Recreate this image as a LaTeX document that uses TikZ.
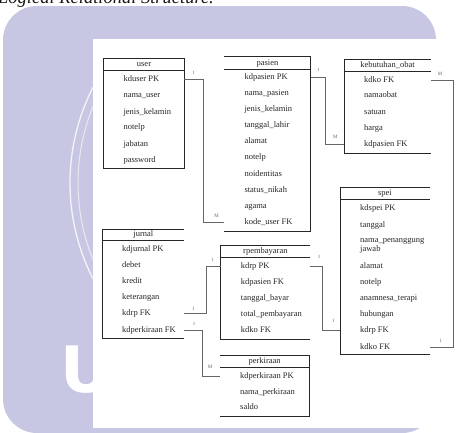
\documentclass[tikz,border=0pt]{standalone}
\usepackage{fontspec}
\setmainfont{Liberation Serif}
\newfontfamily\logofont{DejaVu Sans}
\usetikzlibrary{positioning}
\colorlet{penColor}{black!85}
\colorlet{penColor2}{black!60}
\definecolor{markColor}{RGB}{199,199,227}

\tikzset{
  box/.style={anchor=north west, inner sep=0, outer sep=0},
  hdr/.style={anchor=north, inner sep=0, outer sep=0, text height=4, text depth=0,
    font=\fontsize{8.5}{10}\selectfont, text=penColor},
  fld/.style={anchor=west, inner sep=0, text height=4, text depth=0,
    font=\fontsize{8.5}{10}\selectfont, text=penColor},
  card/.style={inner sep=0, font=\fontsize{5}{6}\selectfont, text=penColor2},
  edge/.style={penColor, line width=0.7},
  link/.style={penColor2, line width=0.7},
}

\begin{document}
\begin{tikzpicture}[x=1pt, y=-1pt]
				\useasboundingbox (0,0) rectangle (457,432);
				% watermark behind the page
				\fill[markColor, rounded corners=34] (3,6) rectangle (436,433);
				\draw[white, opacity=0.8, line width=1.3] (281,183) ++(153:211) arc[start angle=153, end angle=207, radius=211];
				\draw[white, opacity=0.6, line width=1] (281,183) ++(155:203) arc[start angle=155, end angle=205, radius=203];
				\node[anchor=base west, inner sep=0, text=white, font=\logofont\bfseries\fontsize{64}{64}\selectfont] (ulogo) at (60,392) {U};
				\fill[white] (93,39) rectangle (457,427.5);
				\node[anchor=base west, inner sep=0, text=black!90, font=\itshape\fontsize{18.5}{20}\selectfont] (caption) at (-2,3) {Logical Relational Structure.};

				% user
				\node[box, minimum width=80.6, minimum height=109.6] (user) at (103.7,58.7) {};
				\node[hdr, minimum width=80.6, minimum height=11.6] (user-t) at (user.north) {user};
				\draw[edge] (user.north west) rectangle (user.south east);
				\draw[edge] (user-t.south west) -- (user-t.south east);
				\node[fld] (user-1) at (123.3,79.3) {kduser PK};
				\node[fld] (user-2) at (123.3,95.7) {nama\_user};
				\node[fld] (user-3) at (123.3,112) {jenis\_kelamin};
				\node[fld] (user-4) at (123.3,127.7) {notelp};
				\node[fld] (user-5) at (123.3,144) {jabatan};
				\node[fld] (user-6) at (123.3,160) {password};

				% pasien
				\node[box, minimum width=86.4, minimum height=174.3] (pasien) at (224.3,56.7) {};
				\node[hdr, minimum width=86.4, minimum height=12.6] (pasien-t) at (pasien.north) {pasien};
				\draw[edge] (pasien.north west) -- (pasien.north east) -- (pasien.south east) -- (pasien.south west);
				\draw[edge] (pasien-t.south west) -- (pasien-t.south east);
				\node[fld] (pasien-1) at (244.3,77.3) {kdpasien PK};
				\node[fld] (pasien-2) at (244.3,93.3) {nama\_pasien};
				\node[fld] (pasien-3) at (244.3,109.3) {jenis\_kelamin};
				\node[fld] (pasien-4) at (244.3,125.3) {tanggal\_lahir};
				\node[fld] (pasien-5) at (244.3,141.7) {alamat};
				\node[fld] (pasien-6) at (244.3,157.7) {notelp};
				\node[fld] (pasien-7) at (244.3,174) {noidentitas};
				\node[fld] (pasien-8) at (244.3,190) {status\_nikah};
				\node[fld] (pasien-9) at (244.3,206.3) {agama};
				\node[fld] (pasien-10) at (244.3,222.7) {kode\_user FK};

				% kebutuhan_obat
				\node[box, minimum width=86.4, minimum height=93.8] (obat) at (344.3,59.5) {};
				\node[hdr, minimum width=86.4, minimum height=12] (obat-t) at (obat.north) {kebutuhan\_obat};
				\draw[edge] (obat.north east) -- (obat.north west) -- (obat.south west) -- (obat.south east);
				\draw[edge] (obat-t.south west) -- (obat-t.south east);
				\node[fld] (obat-1) at (364,80) {kdko FK};
				\node[fld] (obat-2) at (364,95.7) {namaobat};
				\node[fld] (obat-3) at (364,112) {satuan};
				\node[fld] (obat-4) at (364,128) {harga};
				\node[fld] (obat-5) at (364,144.7) {kdpasien FK};

				% spei
				\node[box, minimum width=90, minimum height=167] (spei) at (340,187.7) {};
				\node[hdr, minimum width=90, minimum height=11.6] (spei-t) at (spei.north) {spei};
				\draw[edge] (spei.north east) -- (spei.north west) -- (spei.south west) -- (spei.south east);
				\draw[edge] (spei-t.south west) -- (spei-t.south east);
				\node[fld] (spei-1) at (360,208.7) {kdspei PK};
				\node[fld] (spei-2) at (360,225.3) {tanggal};
				\node[fld] (spei-3) at (360,240) {nama\_penanggung};
				\node[fld] (spei-3b) at (360,249.3) {jawab};
				\node[fld] (spei-4) at (360,266) {alamat};
				\node[fld] (spei-5) at (360,282.7) {notelp};
				\node[fld] (spei-6) at (360,298.3) {anamnesa\_terapi};
				\node[fld] (spei-7) at (360,314.3) {hubungan};
				\node[fld] (spei-8) at (360,330.3) {kdrp FK};
				\node[fld] (spei-9) at (360,347) {kdko FK};

				% jurnal
				\node[box, minimum width=81.3, minimum height=109.3] (jurnal) at (102.7,229) {};
				\node[hdr, minimum width=81.3, minimum height=11.3] (jurnal-t) at (jurnal.north) {jurnal};
				\draw[edge] (jurnal.north east) -- (jurnal.north west) -- (jurnal.south west) -- (jurnal.south east);
				\draw[edge] (jurnal-t.south west) -- (jurnal-t.south east);
				\node[fld] (jurnal-1) at (122,249) {kdjurnal PK};
				\node[fld] (jurnal-2) at (122,265.3) {debet};
				\node[fld] (jurnal-3) at (122,281.7) {kredit};
				\node[fld] (jurnal-4) at (122,297.7) {keterangan};
				\node[fld] (jurnal-5) at (122,313.3) {kdrp FK};
				\node[fld] (jurnal-6) at (122,330) {kdperkiraan FK};

				% rpembayaran
				\node[box, minimum width=89.3, minimum height=93.3] (bayar) at (220.7,245.7) {};
				\node[hdr, minimum width=89.3, minimum height=11.6] (bayar-t) at (bayar.north) {rpembayaran};
				\draw[edge] (bayar.north east) -- (bayar.north west) -- (bayar.south west) -- (bayar.south east);
				\draw[edge] (bayar-t.south west) -- (bayar-t.south east);
				\node[fld] (bayar-1) at (240.7,266) {kdrp PK};
				\node[fld] (bayar-2) at (240.7,282.7) {kdpasien FK};
				\node[fld] (bayar-3) at (240.7,298.3) {tanggal\_bayar};
				\node[fld] (bayar-4) at (240.7,314.3) {total\_pembayaran};
				\node[fld] (bayar-5) at (240.7,330.3) {kdko FK};

				% perkiraan
				\node[box, minimum width=89.3, minimum height=60.7] (perkiraan) at (220,355.3) {};
				\node[hdr, minimum width=89.3, minimum height=12] (perkiraan-t) at (perkiraan.north) {perkiraan};
				\draw[edge] (perkiraan.north west) -- (perkiraan.north east) -- (perkiraan.south east) -- (perkiraan.south west);
				\draw[edge] (perkiraan-t.south west) -- (perkiraan-t.south east);
				\node[fld] (perkiraan-1) at (240,376.3) {kdperkiraan PK};
				\node[fld] (perkiraan-2) at (240,392) {nama\_perkiraan};
				\node[fld] (perkiraan-3) at (240,407.3) {saldo};

				% relations
				\draw[link] (user.east |- user-1) -- ++(19.4,0) |- (pasien.west |- pasien-10);
				\node[card] (c1a) at (193.7,72.7) {1};
				\node[card] (c1b) at (216.7,216) {M};
				\draw[link] (pasien.east |- pasien-1) -- ++(14.3,0) |- (obat.west |- obat-5);
				\node[card] (c2a) at (318.3,70.3) {1};
				\node[card] (c2b) at (335.3,137) {M};
				\draw[link] (obat.east |- obat-1) -- ++(22.6,0) |- (spei.east |- spei-9);
				\node[card] (c3a) at (440,74) {M};
				\node[card] (c3b) at (440.7,340.7) {1};
				\draw[link] (jurnal.east |- jurnal-5) -- ++(22.7,0) |- (bayar.west |- bayar-1);
				\node[card] (c4a) at (193.3,309.3) {1};
				\node[card] (c4b) at (212.7,260) {1};
				\draw[link] (jurnal.east |- jurnal-6) -- ++(18.3,0) |- (perkiraan.west |- perkiraan-1);
				\node[card] (c5a) at (194,324) {1};
				\node[card] (c5b) at (210,367.3) {M};
				\draw[link] (bayar.east |- bayar-1) -- ++(12.7,0) |- (spei.west |- spei-8);
				\node[card] (c6a) at (319,257) {1};
				\node[card] (c6b) at (333.3,320.7) {1};
\end{tikzpicture}
\end{document}
